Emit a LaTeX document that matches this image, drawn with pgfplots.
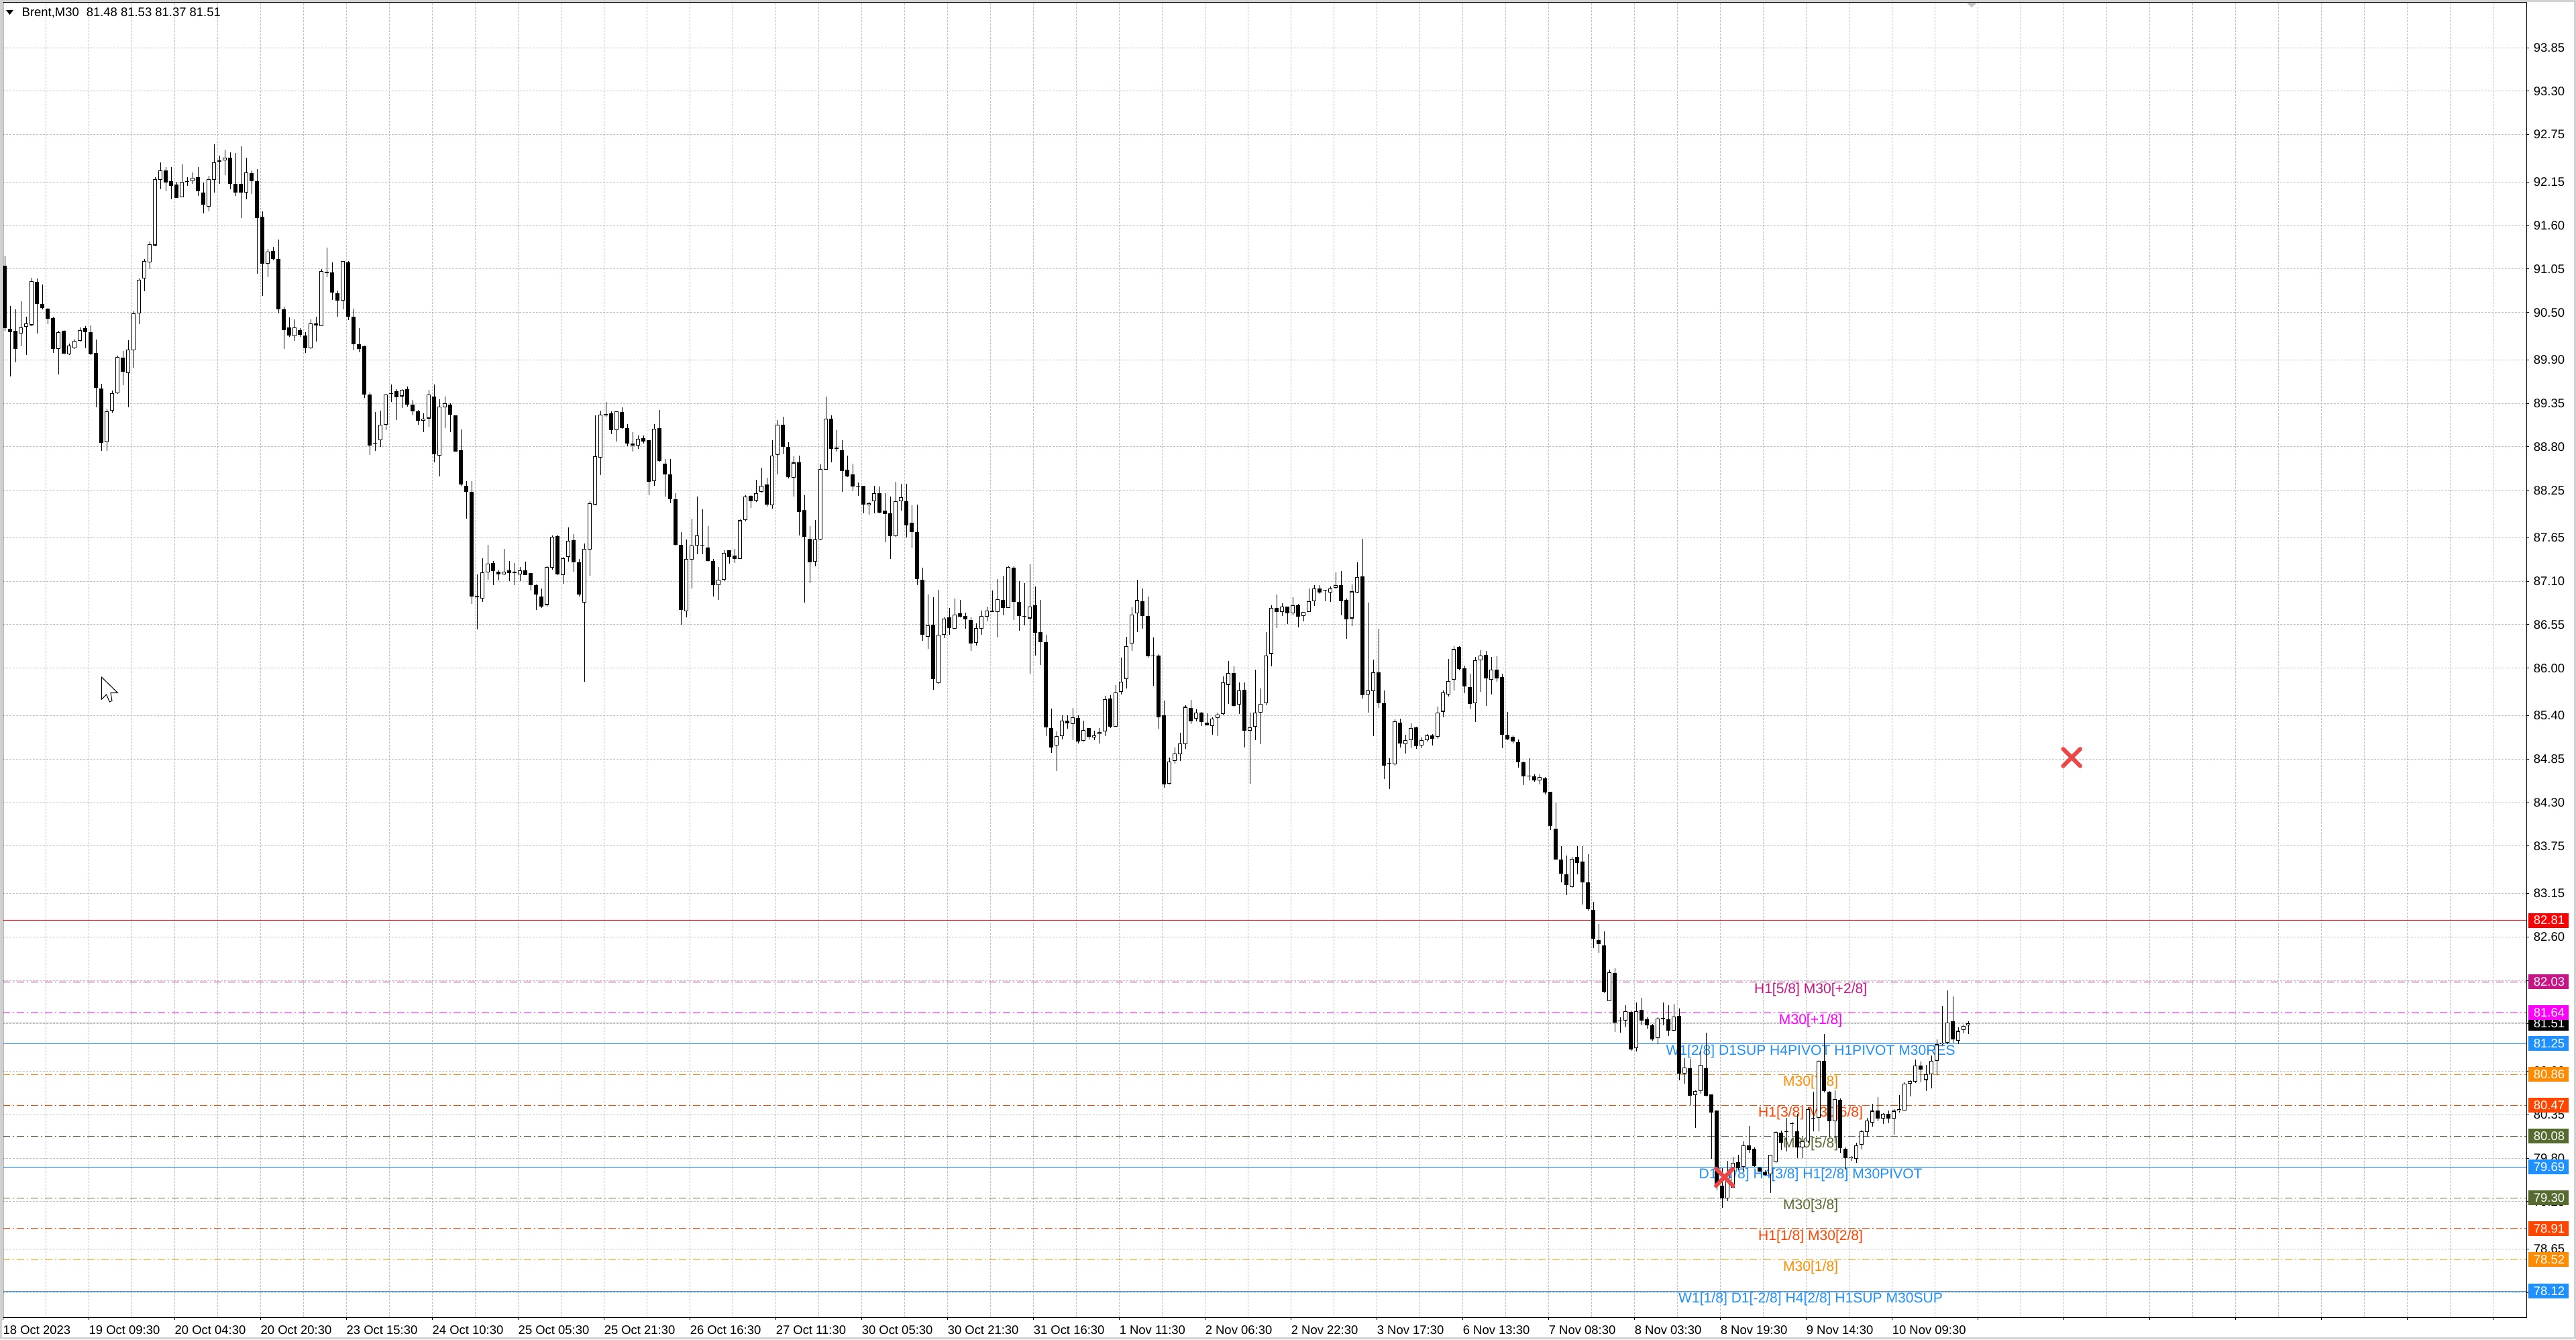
\documentclass[border=0pt]{standalone}
\usepackage{fontspec}
\setmainfont{Liberation Sans}
\usepackage{pgfplots}
\usepackage{pgfplotstable}
\pgfplotsset{compat=1.18}

\definecolor{mvr}{HTML}{C71585}
\definecolor{mag}{HTML}{FF00FF}
\definecolor{dblue}{HTML}{1E90FF}
\definecolor{dorange}{HTML}{FF8C00}
\definecolor{ored}{HTML}{FF4500}
\definecolor{dolive}{HTML}{556B2F}
\definecolor{gridc}{HTML}{C0C0C0}
\definecolor{xred}{HTML}{EC4646}

\newcommand\axf{\fontsize{5.25pt}{6pt}\selectfont}
\newcommand\lvf{\fontsize{6.0pt}{7pt}\selectfont}
\tikzset{dashdot/.style={dash pattern=on 1.1mm off 0.4mm on 0.2mm off 0.4mm}}

% Brent M30 candles, two bars per row: x(bar) open high low close
\pgfplotstableread{
x o h l c
0.5 91.09 91.21 90.27 90.30
2.5 90.29 90.58 89.69 90.25
4.5 90.27 90.54 89.87 90.04
6.5 90.23 90.64 90.07 90.31
8.5 90.32 90.45 89.96 90.36
10.5 90.34 90.94 90.33 90.90
12.5 90.89 90.93 90.23 90.61
14.5 90.61 90.85 90.54 90.56
16.5 90.55 90.56 90.35 90.42
18.5 90.43 90.45 89.99 90.04
20.5 90.04 90.27 89.72 90.25
22.5 90.27 90.28 89.97 89.98
24.5 89.97 90.11 89.96 90.08
26.5 90.05 90.16 90.04 90.14
28.5 90.14 90.31 90.13 90.28
30.5 90.30 90.33 90.05 90.25
32.5 90.25 90.34 89.96 89.97
34.5 89.99 90.16 89.30 89.55
36.5 89.54 89.60 88.75 88.85
38.5 88.86 89.28 88.75 89.25
40.5 89.26 89.51 89.23 89.48
42.5 89.48 89.95 89.47 89.94
44.5 89.93 90.01 89.58 89.75
46.5 89.73 90.15 89.30 90.03
48.5 90.02 90.51 89.80 90.49
50.5 90.49 90.93 90.35 90.91
52.5 90.93 91.18 90.77 91.15
54.5 91.13 91.40 91.05 91.36
56.5 91.35 92.21 91.34 92.19
58.5 92.18 92.40 92.06 92.30
60.5 92.30 92.34 92.03 92.14
62.5 92.16 92.34 91.93 92.10
64.5 92.12 92.15 91.95 91.95
66.5 91.96 92.37 91.96 92.15
68.5 92.16 92.21 92.10 92.15
70.5 92.16 92.27 92.13 92.20
72.5 92.21 92.34 91.97 92.03
74.5 92.02 92.14 91.75 91.86
76.5 91.84 92.23 91.78 92.19
78.5 92.18 92.63 92.02 92.40
80.5 92.41 92.48 92.13 92.42
82.5 92.42 92.56 92.24 92.46
84.5 92.46 92.53 92.06 92.13
86.5 92.13 92.52 91.97 92.02
88.5 92.13 92.60 91.69 92.02
90.5 92.02 92.46 91.93 92.27
92.5 92.26 92.30 92.00 92.16
94.5 92.16 92.31 90.99 91.69
96.5 91.71 91.78 90.71 91.12
98.5 91.12 91.30 90.95 91.27
100.5 91.28 91.33 91.16 91.18
102.5 91.18 91.42 90.49 90.54
104.5 90.54 90.57 90.04 90.28
106.5 90.31 90.44 90.19 90.21
108.5 90.20 90.41 90.14 90.31
110.5 90.28 90.30 90.19 90.22
112.5 90.21 90.25 89.99 90.05
114.5 90.05 90.41 90.04 90.36
116.5 90.36 90.45 90.13 90.34
118.5 90.33 91.05 90.33 91.02
120.5 91.01 91.32 90.95 91.00
122.5 91.01 91.13 90.66 90.75
124.5 90.74 90.78 90.45 90.65
126.5 90.65 91.15 90.54 91.15
128.5 91.13 91.15 90.40 90.45
130.5 90.45 90.55 90.02 90.10
132.5 90.10 90.30 90.00 90.04
134.5 90.07 90.08 89.42 89.46
136.5 89.46 89.49 88.70 88.82
138.5 88.84 89.24 88.75 88.85
140.5 88.88 89.26 88.80 89.08
142.5 89.08 89.47 89.01 89.46
144.5 89.47 89.59 89.37 89.48
146.5 89.50 89.53 89.14 89.43
148.5 89.44 89.53 89.29 89.52
150.5 89.53 89.56 89.31 89.33
152.5 89.33 89.39 89.20 89.25
154.5 89.25 89.27 89.08 89.13
156.5 89.13 89.22 88.99 89.16
158.5 89.16 89.52 89.05 89.46
160.5 89.44 89.59 88.60 88.71
162.5 88.69 89.40 88.43 89.31
164.5 89.30 89.44 89.04 89.35
166.5 89.33 89.35 88.99 89.21
168.5 89.20 89.20 88.74 88.74
170.5 88.76 89.02 88.31 88.32
172.5 88.31 88.37 87.89 88.23
174.5 88.23 88.37 86.81 86.91
176.5 86.90 87.19 86.49 86.90
178.5 86.88 87.39 86.84 87.21
180.5 87.21 87.56 87.12 87.32
182.5 87.33 87.36 87.05 87.23
184.5 87.22 87.24 87.11 87.19
186.5 87.19 87.51 87.18 87.22
188.5 87.24 87.36 87.10 87.20
190.5 87.22 87.33 87.05 87.20
192.5 87.19 87.28 87.10 87.24
194.5 87.24 87.35 87.18 87.18
196.5 87.20 87.20 86.98 87.05
198.5 87.05 87.06 86.74 86.93
200.5 86.91 87.01 86.76 86.78
202.5 86.80 87.30 86.78 87.28
204.5 87.27 87.68 87.25 87.66
206.5 87.67 87.69 87.18 87.19
208.5 87.18 87.41 87.07 87.39
210.5 87.41 87.78 87.35 87.61
212.5 87.62 87.70 87.22 87.34
214.5 87.34 87.38 86.91 86.93
216.5 86.83 87.58 85.83 87.51
218.5 87.50 88.11 87.17 88.09
220.5 88.07 89.20 88.06 88.68
222.5 88.66 89.26 88.44 89.21
224.5 89.20 89.37 89.18 89.21
226.5 89.22 89.25 88.96 89.01
228.5 89.01 89.25 88.87 89.25
230.5 89.24 89.30 89.03 89.04
232.5 89.04 89.09 88.81 88.84
234.5 88.84 88.99 88.74 88.82
236.5 88.82 88.94 88.77 88.90
238.5 88.91 88.94 88.84 88.87
240.5 88.88 88.88 88.19 88.36
242.5 88.37 89.09 88.31 89.03
244.5 89.04 89.27 88.61 88.62
246.5 88.59 88.65 88.17 88.45
248.5 88.45 88.65 88.09 88.14
250.5 88.14 88.21 87.55 87.56
252.5 87.56 87.72 86.55 86.74
254.5 86.72 87.63 86.64 87.38
256.5 87.37 87.89 87.01 87.55
258.5 87.55 88.17 87.44 87.68
260.5 87.55 88.01 87.44 87.55
262.5 87.53 87.80 87.35 87.36
264.5 87.36 87.38 86.91 87.05
266.5 87.05 87.28 86.86 87.12
268.5 87.12 87.49 87.10 87.46
270.5 87.49 87.49 87.32 87.41
272.5 87.42 87.51 87.33 87.38
274.5 87.38 87.88 87.38 87.87
276.5 87.87 88.19 87.86 88.17
278.5 88.18 88.19 88.03 88.11
280.5 88.12 88.38 88.10 88.21
282.5 88.23 88.54 88.22 88.31
284.5 88.32 88.41 88.04 88.07
286.5 88.06 88.88 88.02 88.69
288.5 88.70 89.14 88.45 89.08
290.5 89.08 89.18 88.71 88.80
292.5 88.80 88.86 88.40 88.42
294.5 88.41 88.68 88.17 88.60
296.5 88.60 88.69 87.68 87.98
298.5 88.00 88.19 86.83 87.66
300.5 87.64 87.80 87.08 87.34
302.5 87.35 87.87 87.29 87.63
304.5 87.63 88.58 87.62 88.52
306.5 88.51 89.44 88.51 89.16
308.5 89.16 89.20 88.60 88.77
310.5 88.79 89.01 88.74 88.77
312.5 88.76 88.88 88.23 88.49
314.5 88.51 88.69 88.42 88.43
316.5 88.45 88.59 88.24 88.30
318.5 88.30 88.35 88.18 88.29
320.5 88.31 88.31 87.96 88.07
322.5 88.06 88.10 87.94 88.09
324.5 88.11 88.31 87.96 88.21
326.5 88.21 88.30 87.96 87.97
328.5 87.99 88.21 87.59 87.95
330.5 87.96 88.17 87.38 87.67
332.5 87.67 88.36 87.66 88.11
334.5 88.11 88.33 87.99 88.16
336.5 88.11 88.33 87.65 87.81
338.5 87.84 88.06 87.52 87.72
340.5 87.72 88.07 87.05 87.13
342.5 87.12 87.27 86.35 86.42
344.5 86.40 86.93 86.24 86.54
346.5 86.55 86.90 85.73 85.86
348.5 85.81 86.99 85.80 86.42
350.5 86.42 86.64 86.38 86.63
352.5 86.64 86.76 86.42 86.51
354.5 86.50 86.88 86.49 86.68
356.5 86.69 86.86 86.64 86.65
358.5 86.66 86.70 86.50 86.62
360.5 86.61 86.64 86.22 86.31
362.5 86.32 86.57 86.29 86.51
364.5 86.50 86.73 86.42 86.66
366.5 86.65 86.78 86.59 86.73
368.5 86.73 86.98 86.71 86.71
370.5 86.71 87.13 86.39 86.87
372.5 86.86 87.17 86.67 86.76
374.5 86.76 87.29 86.76 87.28
376.5 87.27 87.29 86.61 86.84
378.5 86.84 87.10 86.47 86.66
380.5 86.65 87.08 86.54 86.65
382.5 86.63 87.31 85.93 86.78
384.5 86.80 87.03 86.16 86.45
386.5 86.46 86.86 86.04 86.33
388.5 86.33 86.42 85.14 85.25
390.5 85.24 85.49 84.93 85.00
392.5 85.02 85.20 84.70 85.14
394.5 85.14 85.40 85.10 85.34
396.5 85.34 85.40 85.23 85.30
398.5 85.29 85.50 85.09 85.38
400.5 85.37 85.40 85.05 85.07
402.5 85.08 85.34 85.07 85.22
404.5 85.24 85.24 85.10 85.13
406.5 85.12 85.21 85.09 85.15
408.5 85.17 85.24 85.05 85.19
410.5 85.20 85.65 85.14 85.61
412.5 85.62 85.66 85.24 85.26
414.5 85.26 85.79 85.26 85.69
416.5 85.70 86.13 85.67 85.83
418.5 85.86 86.40 85.74 86.28
420.5 86.31 86.77 86.22 86.68
422.5 86.69 87.12 86.46 86.86
424.5 86.85 87.01 86.50 86.66
426.5 86.66 86.91 86.13 86.15
428.5 86.16 86.39 85.78 86.15
430.5 86.16 86.18 85.23 85.38
432.5 85.40 85.59 84.49 84.53
434.5 84.54 84.87 84.53 84.82
436.5 84.83 85.00 84.79 84.92
438.5 84.91 85.18 84.83 85.05
440.5 85.04 85.53 84.98 85.51
442.5 85.50 85.60 85.29 85.33
444.5 85.36 85.48 85.33 85.44
446.5 85.44 85.45 85.27 85.32
448.5 85.31 85.43 85.28 85.28
450.5 85.27 85.38 85.16 85.36
452.5 85.37 85.44 85.14 85.41
454.5 85.42 85.90 85.40 85.82
456.5 85.79 86.09 85.55 85.94
458.5 85.94 86.02 85.51 85.52
460.5 85.54 85.82 85.42 85.72
462.5 85.73 85.82 85.00 85.21
464.5 85.21 85.44 84.54 85.25
466.5 85.26 85.98 85.09 85.44
468.5 85.44 85.74 85.04 85.55
470.5 85.56 86.46 85.53 86.16
472.5 86.18 86.80 86.02 86.76
474.5 86.76 86.93 86.51 86.71
476.5 86.71 86.82 86.66 86.78
478.5 86.78 86.78 86.56 86.69
480.5 86.69 86.90 86.67 86.80
482.5 86.80 86.81 86.52 86.65
484.5 86.66 86.71 86.59 86.71
486.5 86.71 87.01 86.71 86.85
488.5 86.85 87.05 86.79 87.01
490.5 87.01 87.05 86.94 86.96
492.5 86.97 86.99 86.85 86.98
494.5 86.96 87.03 86.84 87.01
496.5 87.02 87.21 87.00 87.05
498.5 87.05 87.23 86.67 86.85
500.5 86.86 86.88 86.37 86.62
502.5 86.63 87.06 86.53 86.97
504.5 86.96 87.34 86.95 87.15
506.5 87.16 87.64 85.62 85.66
508.5 85.67 86.83 85.44 85.72
510.5 85.71 86.11 85.14 85.95
512.5 85.95 86.50 85.50 85.56
514.5 85.56 85.72 84.60 84.77
516.5 84.79 84.86 84.47 84.80
518.5 84.78 85.35 84.77 85.33
520.5 85.31 85.36 85.00 85.05
522.5 85.04 85.16 84.92 85.09
524.5 85.09 85.30 84.99 85.24
526.5 85.25 85.26 84.98 85.01
528.5 85.02 85.12 84.99 85.09
530.5 85.09 85.17 85.07 85.15
532.5 85.15 85.17 85.02 85.11
534.5 85.13 85.51 85.11 85.44
536.5 85.45 85.72 85.38 85.69
538.5 85.67 86.12 85.64 85.84
540.5 85.85 86.28 85.72 86.24
542.5 86.27 86.28 85.97 85.99
544.5 86.00 86.03 85.68 85.77
546.5 85.76 85.93 85.48 85.55
548.5 85.56 86.14 85.32 86.10
550.5 86.10 86.23 85.70 86.16
552.5 86.17 86.22 85.52 85.87
554.5 85.85 86.14 85.67 85.98
556.5 85.98 86.15 85.83 85.87
558.5 85.89 85.93 84.99 85.16
560.5 85.16 85.45 85.09 85.10
562.5 85.13 85.15 85.05 85.07
564.5 85.06 85.10 84.74 84.81
566.5 84.81 84.82 84.52 84.63
568.5 84.63 84.86 84.58 84.63
570.5 84.63 84.66 84.56 84.58
572.5 84.58 84.66 84.53 84.62
574.5 84.61 84.62 84.40 84.43
576.5 84.44 84.44 83.95 84.00
578.5 83.97 84.30 83.58 83.58
580.5 83.58 83.75 83.29 83.40
582.5 83.39 83.63 83.13 83.26
584.5 83.23 83.61 83.22 83.59
586.5 83.61 83.75 83.39 83.54
588.5 83.55 83.75 83.01 83.29
590.5 83.29 83.65 82.93 82.95
592.5 82.94 83.04 82.46 82.58
594.5 82.56 82.76 82.40 82.51
596.5 82.49 82.67 81.89 81.91
598.5 81.79 82.19 81.79 82.15
600.5 82.14 82.20 81.40 81.52
602.5 81.53 81.58 81.39 81.54
604.5 81.54 81.74 81.46 81.66
606.5 81.65 81.67 81.16 81.18
608.5 81.19 81.77 81.15 81.66
610.5 81.68 81.83 81.48 81.54
612.5 81.56 81.58 81.44 81.48
614.5 81.48 81.50 81.29 81.30
616.5 81.32 81.58 81.24 81.57
618.5 81.56 81.77 81.48 81.56
620.5 81.56 81.74 81.35 81.41
622.5 81.41 81.75 81.41 81.59
624.5 81.60 81.69 80.79 80.87
626.5 80.87 81.07 80.74 80.95
628.5 80.94 81.06 80.47 80.59
630.5 80.60 80.66 80.18 80.65
632.5 80.65 81.15 80.62 80.98
634.5 80.94 81.39 80.58 80.59
636.5 80.61 80.61 79.79 80.38
638.5 80.40 80.40 79.39 79.45
640.5 79.45 79.67 79.17 79.29
642.5 79.29 79.77 79.26 79.59
644.5 79.43 79.82 79.42 79.74
646.5 79.75 79.84 79.65 79.67
648.5 79.69 80.01 79.63 79.96
650.5 79.96 80.21 79.87 79.90
652.5 79.92 79.94 79.69 79.70
654.5 79.68 79.69 79.62 79.63
656.5 79.62 79.65 79.58 79.59
658.5 79.60 79.84 79.36 79.84
660.5 79.75 80.14 79.74 80.13
662.5 80.12 80.15 79.90 80.00
664.5 80.13 80.31 79.89 80.14
666.5 80.24 80.26 80.08 80.23
668.5 80.14 80.36 79.80 79.94
670.5 79.94 80.07 79.80 80.01
672.5 80.01 80.45 80.00 80.42
674.5 80.30 80.64 80.14 80.30
676.5 80.31 81.04 80.14 81.03
678.5 81.03 81.37 80.63 80.65
680.5 80.64 80.65 80.06 80.27
682.5 80.27 80.66 79.99 80.55
684.5 80.54 80.56 79.87 79.93
686.5 79.92 79.94 79.66 79.80
688.5 79.80 79.83 79.77 79.82
690.5 79.79 80.00 79.74 79.96
692.5 79.97 80.16 79.91 80.14
694.5 80.13 80.31 80.07 80.28
696.5 80.25 80.49 80.20 80.40
698.5 80.40 80.57 80.27 80.30
700.5 80.30 80.37 80.23 80.36
702.5 80.36 80.40 80.24 80.30
704.5 80.30 80.42 80.10 80.40
706.5 80.40 80.60 80.38 80.42
708.5 80.40 80.76 80.40 80.74
710.5 80.74 80.79 80.58 80.78
712.5 80.77 81.05 80.75 80.97
714.5 80.97 81.02 80.76 80.92
716.5 80.79 80.98 80.65 80.86
718.5 80.86 81.10 80.68 81.03
720.5 81.03 81.30 80.85 81.24
722.5 81.24 81.73 81.23 81.26
724.5 81.26 81.92 81.24 81.52
726.5 81.53 81.85 81.26 81.30
728.5 81.29 81.46 81.24 81.41
730.5 81.42 81.49 81.38 81.47
732.3 81.48 81.53 81.37 81.51
}\candles

\newcommand\pbox[3]{%
  \fill[#1] ([xshift=0.3mm,yshift=-1.1mm]#2) rectangle ([xshift=6.3mm,yshift=1.1mm]#2);
  \node[anchor=west, inner sep=0pt, text=white, font=\axf] at ([xshift=1mm]#2) {#3};}

\begin{document}
\begin{tikzpicture}
\useasboundingbox (0,0) rectangle (384mm,199.6mm);
\fill[white] (0,0) rectangle (384mm,199.6mm);
\begin{axis}[
  at={(0.4mm,3.3mm)}, anchor=south west,
  width=376.2mm, height=195.9mm, scale only axis,
  xmin=-0.25, xmax=940.25, ymin=77.789, ymax=94.419,
  clip=false,
  axis line style={line width=0.1mm, black},
  tick style={line width=0.1mm, black},
  tick align=outside, major tick length=0.4mm, minor tick length=0pt,
  xtick pos=bottom, ytick pos=right, yticklabel pos=right,
  xtick={-0.25,31.75,...,927.75},
  minor x tick num=1,
  xticklabels={18 Oct 2023,19 Oct 09:30,20 Oct 04:30,20 Oct 20:30,23 Oct 15:30,24 Oct 10:30,25 Oct 05:30,25 Oct 21:30,26 Oct 16:30,27 Oct 11:30,30 Oct 05:30,30 Oct 21:30,31 Oct 16:30,1 Nov 11:30,2 Nov 06:30,2 Nov 22:30,3 Nov 17:30,6 Nov 13:30,7 Nov 08:30,8 Nov 03:30,8 Nov 19:30,9 Nov 14:30,10 Nov 09:30,{},{},{},{},{},{},{}},
  ytick={78.10,78.65,79.25,79.80,80.35,80.90,81.50,82.05,82.60,83.15,83.75,84.30,84.85,85.40,86.00,86.55,87.10,87.65,88.25,88.80,89.35,89.90,90.50,91.05,91.60,92.15,92.75,93.30,93.85},
  yticklabels={78.10,78.65,79.25,79.80,80.35,80.90,81.50,82.05,82.60,83.15,83.75,84.30,84.85,85.40,86.00,86.55,87.10,87.65,88.25,88.80,89.35,89.90,90.50,91.05,91.60,92.15,92.75,93.30,93.85},
  xmajorgrids, xminorgrids, ymajorgrids,
  major grid style={gridc, line width=0.1mm, dash pattern=on 0.3mm off 0.2mm},
  minor grid style={gridc, line width=0.1mm, dash pattern=on 0.3mm off 0.2mm},
  xticklabel style={font=\axf, anchor=north west, inner sep=0pt, yshift=-0.8mm},
  yticklabel style={font=\axf, anchor=west, inner sep=0pt, xshift=0.6mm},
]
% level lines
\addplot[red, line width=0.1mm] coordinates {(-0.25,82.81) (940.25,82.81)};
\addplot[mvr, line width=0.1mm, dashdot] coordinates {(-0.25,82.03) (940.25,82.03)};
\addplot[mag, line width=0.1mm, dashdot] coordinates {(-0.25,81.64) (940.25,81.64)};
\addplot[gray!60, line width=0.1mm] coordinates {(-0.25,81.51) (940.25,81.51)};
\addplot[dblue, line width=0.1mm] coordinates {(-0.25,81.25) (940.25,81.25)};
\addplot[dorange, line width=0.1mm, dashdot] coordinates {(-0.25,80.86) (940.25,80.86)};
\addplot[ored, line width=0.1mm, dashdot] coordinates {(-0.25,80.47) (940.25,80.47)};
\addplot[dolive, line width=0.1mm, dashdot] coordinates {(-0.25,80.08) (940.25,80.08)};
\addplot[dblue, line width=0.1mm] coordinates {(-0.25,79.69) (940.25,79.69)};
\addplot[dolive, line width=0.1mm, dashdot] coordinates {(-0.25,79.30) (940.25,79.30)};
\addplot[ored, line width=0.1mm, dashdot] coordinates {(-0.25,78.91) (940.25,78.91)};
\addplot[dorange, line width=0.1mm, dashdot] coordinates {(-0.25,78.52) (940.25,78.52)};
\addplot[dblue, line width=0.1mm] coordinates {(-0.25,78.12) (940.25,78.12)};
% level labels
\node[text=mvr, font=\lvf, yshift=-1.2mm] at (axis cs:673.5,82.03) {H1[5/8] M30[+2/8]};
\node[text=mag, font=\lvf, yshift=-1.2mm] at (axis cs:673.5,81.64) {M30[+1/8]};
\node[text=dblue, font=\lvf, yshift=-1.2mm] at (axis cs:673.5,81.25) {W1[2/8] D1SUP H4PIVOT H1PIVOT M30RES};
\node[text=dorange, font=\lvf, yshift=-1.2mm] at (axis cs:673.5,80.86) {M30[7/8]};
\node[text=ored, font=\lvf, yshift=-1.2mm] at (axis cs:673.5,80.47) {H1[3/8] M30[6/8]};
\node[text=dolive, font=\lvf, yshift=-1.2mm] at (axis cs:673.5,80.08) {M30[5/8]};
\node[text=dblue, font=\lvf, yshift=-1.2mm] at (axis cs:673.5,79.69) {D1[-1/8] H4[3/8] H1[2/8] M30PIVOT};
\node[text=dolive, font=\lvf, yshift=-1.2mm] at (axis cs:673.5,79.30) {M30[3/8]};
\node[text=ored, font=\lvf, yshift=-1.2mm] at (axis cs:673.5,78.91) {H1[1/8] M30[2/8]};
\node[text=dorange, font=\lvf, yshift=-1.2mm] at (axis cs:673.5,78.52) {M30[1/8]};
\node[text=dblue, font=\lvf, yshift=-1.2mm] at (axis cs:673.5,78.12) {W1[1/8] D1[-2/8] H4[2/8] H1SUP M30SUP};
% candles: wicks, bodies, hollow up-bodies (vertical quiver segments)
\addplot[black, line width=0.1mm, mark=none, quiver={u=0, v=\thisrow{h}-\thisrow{l}}]
  table[x=x, y=l] {\candles};
\addplot[black, line width=0.6mm, mark=none, quiver={u=0, v={max(abs(\thisrow{c}-\thisrow{o}),0.012)}}]
  table[x=x, y expr={min(\thisrow{o},\thisrow{c})}] {\candles};
\addplot[white, line width=0.42mm, mark=none, quiver={u=0, v={max(\thisrow{c}-\thisrow{o}-0.018,0)}}]
  table[x=x, y expr=\thisrow{o}+0.009] {\candles};
% markers
\addplot[only marks, mark=x, mark size=1.8mm, mark options={line width=0.6mm, line cap=round, xred}]
  coordinates {(641.4,79.56) (770.75,84.87)};
\coordinate (p8281) at (axis cs:940.25,82.81);
\coordinate (p8203) at (axis cs:940.25,82.03);
\coordinate (p8164) at (axis cs:940.25,81.64);
\coordinate (p8151) at (axis cs:940.25,81.51);
\coordinate (p8125) at (axis cs:940.25,81.25);
\coordinate (p8086) at (axis cs:940.25,80.86);
\coordinate (p8047) at (axis cs:940.25,80.47);
\coordinate (p8008) at (axis cs:940.25,80.08);
\coordinate (p7969) at (axis cs:940.25,79.69);
\coordinate (p7930) at (axis cs:940.25,79.30);
\coordinate (p7891) at (axis cs:940.25,78.91);
\coordinate (p7852) at (axis cs:940.25,78.52);
\coordinate (p7812) at (axis cs:940.25,78.12);
\coordinate (shift) at (axis cs:733.5,94.419);
\end{axis}
% price boxes on the scale
\pbox{black}{p8151}{81.51}
\pbox{red}{p8281}{82.81}
\pbox{mvr}{p8203}{82.03}
\pbox{mag}{p8164}{81.64}
\pbox{dblue}{p8125}{81.25}
\pbox{dorange}{p8086}{80.86}
\pbox{ored}{p8047}{80.47}
\pbox{dolive}{p8008}{80.08}
\pbox{dblue}{p7969}{79.69}
\pbox{dolive}{p7930}{79.30}
\pbox{ored}{p7891}{78.91}
\pbox{dorange}{p7852}{78.52}
\pbox{dblue}{p7812}{78.12}
% chart shift marker, mouse pointer and title
\fill[gray!45] ([xshift=-0.8mm]shift) -- ([xshift=0.8mm]shift) -- ([yshift=-0.7mm]shift) -- cycle;
\filldraw[fill=white, draw=black, line width=0.1mm, line join=miter]
  (15.13mm,98.70mm) -- (15.13mm,95.37mm) -- (15.87mm,96.10mm) -- (16.33mm,95.00mm)
  -- (16.70mm,95.17mm) -- (16.50mm,96.33mm) -- (17.57mm,96.33mm) -- cycle;
\fill (0.9mm,198.1mm) -- (2.0mm,198.1mm) -- (1.45mm,197.4mm) -- cycle;
\node[anchor=west, inner sep=0pt, font=\axf] at (3.2mm,197.7mm) {Brent,M30\hspace{1.1mm}81.48 81.53 81.37 81.51};
\draw[gray!35, line width=0.3mm] (0.15mm,0.15mm) rectangle (383.85mm,199.45mm);
\end{tikzpicture}
\end{document}
